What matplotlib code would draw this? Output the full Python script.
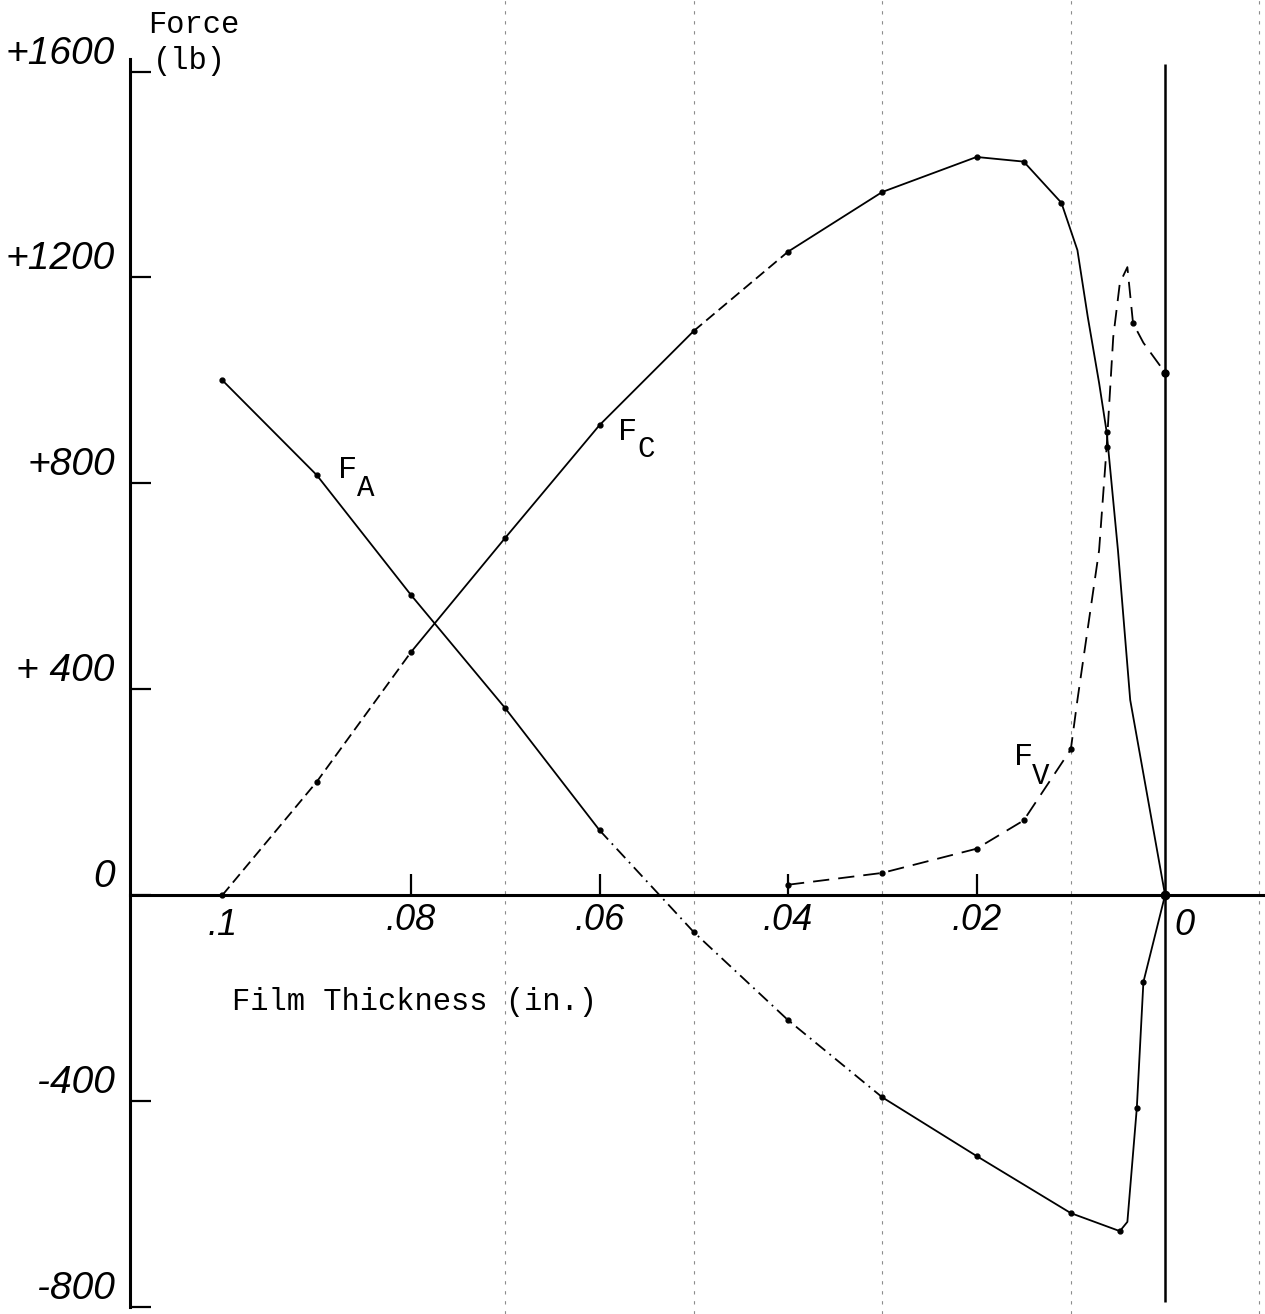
import matplotlib
matplotlib.use("Agg")
import matplotlib.pyplot as plt

# film thickness (in.) vs force (lb)
fa_x = [0.1, 0.09, 0.08, 0.07, 0.06, 0.05, 0.04, 0.03, 0.02, 0.01, 0.0048, 0.004, 0.003, 0.0023, 0.0]
fa_y = [1000, 816, 583, 363, 126, -72, -243, -393, -507, -618, -653, -635, -414, -169, 0]

fc_x = [0.1, 0.09, 0.08, 0.07, 0.06, 0.05, 0.04, 0.03, 0.02, 0.015, 0.011,
        0.0093, 0.0082, 0.007, 0.0062, 0.005, 0.0037, 0.0]
fc_y = [0, 220, 472, 694, 913, 1096, 1250, 1366, 1434, 1425, 1345,
        1253, 1123, 995, 900, 670, 379, 0]

fv_x = [0.04, 0.03, 0.02, 0.015, 0.01, 0.0093, 0.007, 0.0062, 0.0055, 0.0048, 0.004, 0.0034, 0.0023, 0.0]
fv_y = [20, 43, 90, 145, 283, 379, 670, 870, 1084, 1189, 1220, 1111, 1073, 1015]

y_ticks = [1600, 1200, 800, 400, 0, -400, -800]
y_labels = ["+1600", "+1200", "+800", "+ 400", "0", "-400", "-800"]
x_ticks = [0.08, 0.06, 0.04, 0.02]
x_labels = [".08", ".06", ".04", ".02"]
x_end_ticks = [0.1, 0.0]
x_end_labels = [".1", " 0"]
paper_lines = [0.07, 0.05, 0.03, 0.01, -0.01]

HAND = dict(family="Liberation Sans", style="italic")
TYPE = dict(family="Liberation Mono")

fig = plt.figure(figsize=(12.65, 13.14), dpi=100)
ax = fig.add_axes([0, 0, 1, 1])
ax.set_xlim(0.1236, -0.0106)
ax.set_ylim(-814, 1739)

# faint graph-paper lines showing through the scan
for gx in paper_lines:
    ax.axvline(gx, color="#8c8c8c", lw=0.8, ls=(0, (3, 6)), zorder=0)

# the x = 0 line
ax.vlines(0, -790, 1615, color="black", lw=1.8)


def seg(xs, ys, i0, i1, ls):
    ax.plot(xs[i0:i1 + 1], ys[i0:i1 + 1], color="black", lw=1.3, ls=ls,
            solid_capstyle="round", zorder=3)


def dots(xs, ys, idx, ms=3.5):
    ax.plot([xs[i] for i in idx], [ys[i] for i in idx], "o", color="black",
            ms=ms, zorder=4)


# F_A
seg(fa_x, fa_y, 0, 4, "-")
seg(fa_x, fa_y, 4, 7, (0, (7, 3, 1, 3)))
seg(fa_x, fa_y, 7, len(fa_x) - 1, "-")
dots(fa_x, fa_y, [0, 1, 2, 3, 4, 5, 6, 7, 8, 9, 10, 12, 13])
dots(fa_x, fa_y, [len(fa_x) - 1], ms=6)

# F_C
seg(fc_x, fc_y, 0, 2, (0, (6, 3)))
seg(fc_x, fc_y, 2, 5, "-")
seg(fc_x, fc_y, 5, 6, (0, (6, 3)))
seg(fc_x, fc_y, 6, len(fc_x) - 1, "-")
dots(fc_x, fc_y, [0, 1, 2, 3, 4, 5, 6, 7, 8, 9, 10, 14])

# F_V
ax.plot(fv_x, fv_y, color="black", lw=1.3, ls=(0, (9, 5)), zorder=3)
dots(fv_x, fv_y, [0, 1, 2, 3, 4, 7, 11])
dots(fv_x, fv_y, [len(fv_x) - 1], ms=5)

# curve labels
ax.text(0.0867, 826, "F", fontsize=23, ha="center", va="center", **TYPE)
ax.text(0.0848, 791, "A", fontsize=21, ha="center", va="center", **TYPE)
ax.text(0.0570, 900, "F", fontsize=23, ha="center", va="center", **TYPE)
ax.text(0.0551, 867, "C", fontsize=21, ha="center", va="center", **TYPE)
ax.text(0.0150, 268, "F", fontsize=23, ha="center", va="center", **TYPE)
ax.text(0.0132, 231, "V", fontsize=21, ha="center", va="center", **TYPE)

# axis titles
ax.text(0.1079, 1691, "Force", fontsize=22, ha="left", va="center", **TYPE)
ax.text(0.1074, 1621, "(lb)", fontsize=22, ha="left", va="center", **TYPE)
ax.text(0.0796, -208, "Film Thickness (in.)", fontsize=22, ha="center", va="center", **TYPE)

# spines
for s in ["top", "right"]:
    ax.spines[s].set_visible(False)
ax.spines["left"].set_position(("data", 0.1098))
ax.spines["left"].set_bounds(-800, 1625)
ax.spines["left"].set_linewidth(2.2)
ax.spines["bottom"].set_position(("data", 0))
ax.spines["bottom"].set_bounds(0.1098, -0.0106)
ax.spines["bottom"].set_linewidth(2.2)

ax.set_yticks(y_ticks)
ax.set_yticklabels(y_labels, fontsize=28, **HAND)
plt.setp(ax.get_yticklabels(), va="bottom")
ax.tick_params(axis="y", direction="in", length=15, width=1.6, pad=11)

ax.set_xticks(x_ticks)
ax.set_xticklabels(x_labels, fontsize=26, **HAND)
ax.set_xticks(x_end_ticks, minor=True)
ax.set_xticklabels(x_end_labels, minor=True, fontsize=26, **HAND)
ax.tick_params(axis="x", which="major", direction="in", length=15, width=1.6, pad=6)
ax.tick_params(axis="x", which="minor", length=0, pad=9)
ax.get_xticklabels(minor=True)[1].set_ha("left")

fig.savefig("out.png", dpi=100, facecolor="white")
